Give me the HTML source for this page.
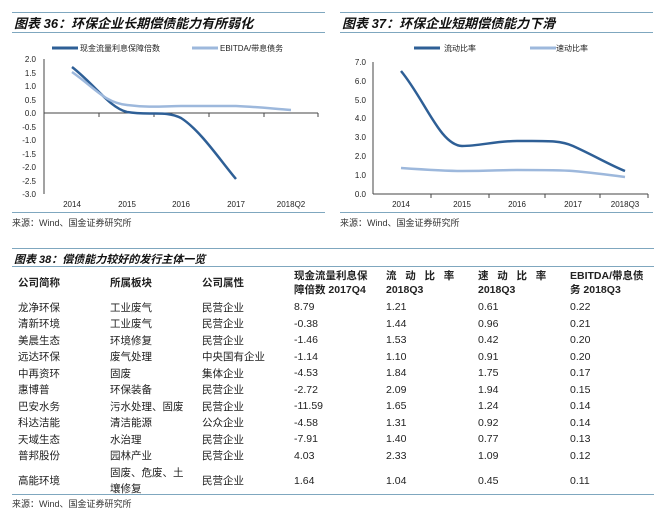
<!DOCTYPE html>
<html><head><meta charset="utf-8"><style>
body{margin:0;width:666px;height:518px;background:#fff;font-family:"Liberation Sans","Noto Sans CJK SC",sans-serif;overflow:hidden;position:relative}
.a{position:absolute;white-space:nowrap}
.t{font-style:italic;font-weight:bold;font-size:13px;color:#111}
.ln{position:absolute;height:1px;background:#7fa7bf}
.s{font-size:9px;color:#333}
table{position:absolute;left:12px;top:267px;border-collapse:collapse;font-size:10.5px;color:#222}
td{padding:0 0 0 6px;height:16.5px;vertical-align:middle}
th{font-weight:bold;text-align:left;padding:0 0 0 6px;font-size:10.5px;line-height:14px;height:32px;vertical-align:middle}
</style></head><body>
<div class="ln" style="left:12px;top:12px;width:313px"></div>
<div class="a t" style="left:14px;top:13px">图表 36：环保企业长期偿债能力有所弱化</div>
<div class="ln" style="left:12px;top:32px;width:313px"></div>
<div class="ln" style="left:340px;top:12px;width:313px"></div>
<div class="a t" style="left:342px;top:13px">图表 37：环保企业短期偿债能力下滑</div>
<div class="ln" style="left:340px;top:32px;width:313px"></div>
<svg class="a" style="left:0;top:0" width="666" height="240" font-family="Liberation Sans,Noto Sans CJK SC,sans-serif" font-size="8" fill="#222">
<line x1="52" y1="48" x2="78" y2="48" stroke="#2e5f96" stroke-width="3"/><text x="80" y="51">现金流量利息保障倍数</text>
<line x1="192" y1="48" x2="218" y2="48" stroke="#9db8dc" stroke-width="3"/><text x="220" y="51">EBITDA/带息债务</text>
<g stroke="#444" stroke-width="1"><line x1="44" y1="59" x2="44" y2="194"/><line x1="44" y1="113" x2="318" y2="113"/>
<line x1="99" y1="113" x2="99" y2="117"/><line x1="154" y1="113" x2="154" y2="117"/><line x1="209" y1="113" x2="209" y2="117"/><line x1="264" y1="113" x2="264" y2="117"/><line x1="318" y1="113" x2="318" y2="117"/>
</g>
<g text-anchor="end"><text x="36" y="62">2.0</text><text x="36" y="76">1.5</text><text x="36" y="89">1.0</text><text x="36" y="103">0.5</text><text x="36" y="116">0.0</text><text x="36" y="130">-0.5</text><text x="36" y="143">-1.0</text><text x="36" y="157">-1.5</text><text x="36" y="170">-2.0</text><text x="36" y="184">-2.5</text><text x="36" y="197">-3.0</text></g>
<g text-anchor="middle"><text x="72" y="207">2014</text><text x="127" y="207">2015</text><text x="181" y="207">2016</text><text x="236" y="207">2017</text><text x="291" y="207">2018Q2</text></g>
<path d="M72,67 C95,85 110,108 127,112 C150,116 165,110 181,118 C200,130 220,160 236,179" fill="none" stroke="#2e5f96" stroke-width="2.5"/>
<path d="M72,72 C95,88 105,103 127,105 C150,108 165,106 181,106 C205,106 220,106 236,106 C260,107 275,109 291,110" fill="none" stroke="#9db8dc" stroke-width="2.5"/>
<line x1="414" y1="48" x2="440" y2="48" stroke="#2e5f96" stroke-width="3"/><text x="444" y="51">流动比率</text>
<line x1="530" y1="48" x2="556" y2="48" stroke="#9db8dc" stroke-width="3"/><text x="556" y="51">速动比率</text>
<g stroke="#444" stroke-width="1"><line x1="373" y1="62" x2="373" y2="194"/><line x1="373" y1="194" x2="648" y2="194"/>
<line x1="431" y1="194" x2="431" y2="198"/><line x1="489" y1="194" x2="489" y2="198"/><line x1="545" y1="194" x2="545" y2="198"/><line x1="600" y1="194" x2="600" y2="198"/><line x1="648" y1="194" x2="648" y2="198"/></g>
<g text-anchor="end"><text x="366" y="65">7.0</text><text x="366" y="84">6.0</text><text x="366" y="103">5.0</text><text x="366" y="121">4.0</text><text x="366" y="140">3.0</text><text x="366" y="159">2.0</text><text x="366" y="178">1.0</text><text x="366" y="197">0.0</text></g>
<g text-anchor="middle"><text x="401" y="207">2014</text><text x="462" y="207">2015</text><text x="517" y="207">2016</text><text x="573" y="207">2017</text><text x="625" y="207">2018Q3</text></g>
<path d="M401,71 C425,100 440,145 462,146 C480,146 495,141 517,141 C545,141 560,140 573,146 C595,156 610,165 625,171" fill="none" stroke="#2e5f96" stroke-width="2.5"/>
<path d="M401,168 C430,170 445,171 462,171 C490,171 500,170 517,170 C545,170 560,170 573,171 C595,173 610,175 625,177" fill="none" stroke="#9db8dc" stroke-width="2.5"/>
</svg>
<div class="ln" style="left:12px;top:212px;width:313px"></div>
<div class="a s" style="left:12px;top:216px">来源：Wind、国金证券研究所</div>
<div class="ln" style="left:340px;top:212px;width:313px"></div>
<div class="a s" style="left:340px;top:216px">来源：Wind、国金证券研究所</div>
<div class="ln" style="left:12px;top:248px;width:642px"></div>
<div class="a t" style="left:14px;top:251px;font-size:11px">图表 38：偿债能力较好的发行主体一览</div>
<div class="ln" style="left:12px;top:266px;width:642px"></div>
<table>
<tr><th style="width:86px">公司简称</th><th style="width:86px">所属板块</th><th style="width:86px">公司属性</th><th style="width:86px">现金流量利息保<br>障倍数 2017Q4</th><th style="width:86px">流&nbsp;&nbsp; 动&nbsp;&nbsp; 比&nbsp;&nbsp; 率<br>2018Q3</th><th style="width:86px">速&nbsp;&nbsp; 动&nbsp;&nbsp; 比&nbsp;&nbsp; 率<br>2018Q3</th><th style="width:86px">EBITDA/带息债<br>务 2018Q3</th></tr>
<tr><td>龙净环保</td><td>工业废气</td><td>民营企业</td><td>8.79</td><td>1.21</td><td>0.61</td><td>0.22</td></tr>
<tr><td>清新环境</td><td>工业废气</td><td>民营企业</td><td>-0.38</td><td>1.44</td><td>0.96</td><td>0.21</td></tr>
<tr><td>美晨生态</td><td>环境修复</td><td>民营企业</td><td>-1.46</td><td>1.53</td><td>0.42</td><td>0.20</td></tr>
<tr><td>远达环保</td><td>废气处理</td><td>中央国有企业</td><td>-1.14</td><td>1.10</td><td>0.91</td><td>0.20</td></tr>
<tr><td>中再资环</td><td>固废</td><td>集体企业</td><td>-4.53</td><td>1.84</td><td>1.75</td><td>0.17</td></tr>
<tr><td>惠博普</td><td>环保装备</td><td>民营企业</td><td>-2.72</td><td>2.09</td><td>1.94</td><td>0.15</td></tr>
<tr><td>巴安水务</td><td>污水处理、固废</td><td>民营企业</td><td>-11.59</td><td>1.65</td><td>1.24</td><td>0.14</td></tr>
<tr><td>科达洁能</td><td>清洁能源</td><td>公众企业</td><td>-4.58</td><td>1.31</td><td>0.92</td><td>0.14</td></tr>
<tr><td>天域生态</td><td>水治理</td><td>民营企业</td><td>-7.91</td><td>1.40</td><td>0.77</td><td>0.13</td></tr>
<tr><td>普邦股份</td><td>园林产业</td><td>民营企业</td><td>4.03</td><td>2.33</td><td>1.09</td><td>0.12</td></tr>
<tr><td style="height:33px">高能环境</td><td style="line-height:16px">固废、危废、土<br>壤修复</td><td>民营企业</td><td>1.64</td><td>1.04</td><td>0.45</td><td>0.11</td></tr>
</table>
<div class="ln" style="left:12px;top:494px;width:642px"></div>
<div class="a s" style="left:12px;top:497px">来源：Wind、国金证券研究所</div>
</body></html>
